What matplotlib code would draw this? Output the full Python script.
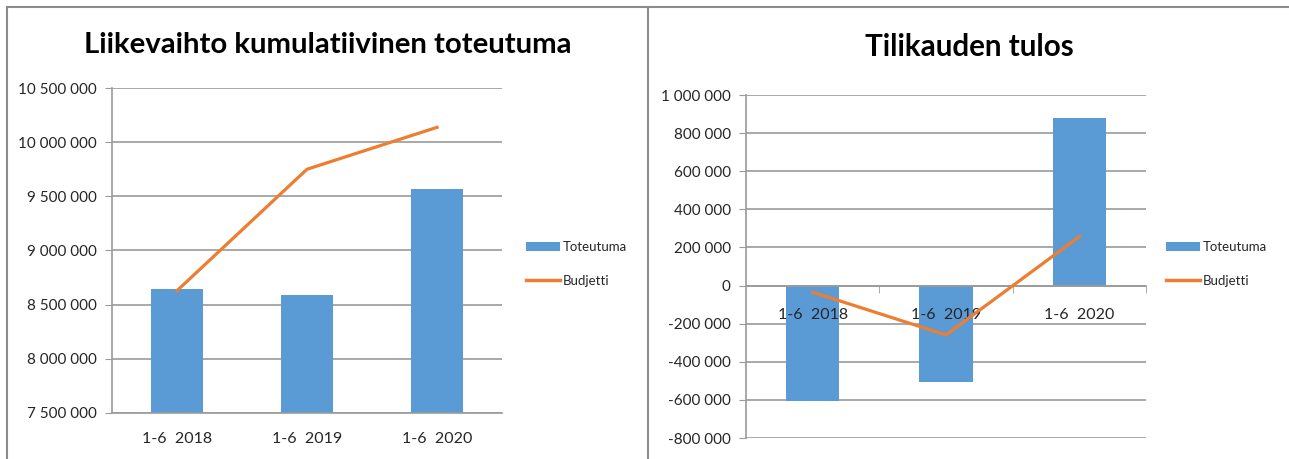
import matplotlib
matplotlib.use("Agg")
import matplotlib.pyplot as plt
from matplotlib.ticker import FuncFormatter, FixedLocator
from matplotlib.lines import Line2D
from matplotlib.patches import Patch

plt.rcParams["font.family"] = ["Lato", "DejaVu Sans"]

categories = ["1-6  2018", "1-6  2019", "1-6  2020"]

# Liikevaihto (revenue), cumulative Jan-Jun
revenue_actual = [8642000, 8589000, 9571000]
revenue_budget = [8629000, 9750000, 10137000]

# Tilikauden tulos (result for the period)
result_actual = [-605000, -504000, 879000]
result_budget = [-35000, -259000, 257000]

BAR_COLOR = "#5B9BD5"
LINE_COLOR = "#ED7D31"
GRID_COLOR = "#9a9a9a"
TEXT_COLOR = "#262626"

W, H = 1289, 459
fig = plt.figure(figsize=(W / 100, H / 100), dpi=100)


def px_axes(x0, y0, x1, y1):
    # axes from pixel box (top-left origin)
    return fig.add_axes([x0 / W, 1 - y1 / H, (x1 - x0) / W, (y1 - y0) / H])


def fmt_space(v, pos):
    s = f"{abs(int(round(v))):,}".replace(",", " ")
    return ("-" if v < 0 else "") + s


def style_axes(ax, ymin, ymax, step):
    ax.set_xlim(-0.5, len(categories) - 0.5)
    ax.set_ylim(ymin, ymax)
    ticks = list(range(ymin, ymax + 1, step))
    ax.yaxis.set_major_locator(FixedLocator(ticks))
    ax.yaxis.set_major_formatter(FuncFormatter(fmt_space))
    # gridlines behind the bars, tick labels stay on top
    for t in ticks:
        ax.axhline(t, color=GRID_COLOR, lw=1.2, zorder=0)
    for s in ("top", "right"):
        ax.spines[s].set_visible(False)
    ax.spines["left"].set_color(GRID_COLOR)
    ax.spines["left"].set_linewidth(1.2)
    ax.spines["bottom"].set_color(GRID_COLOR)
    ax.spines["bottom"].set_linewidth(1.2)
    ax.tick_params(axis="y", length=5, color=GRID_COLOR, labelsize=11,
                   labelcolor=TEXT_COLOR, pad=6)
    ax.set_xticks(range(len(categories)))
    ax.set_xticklabels(categories)
    ax.tick_params(axis="x", length=0, labelsize=11.5, labelcolor=TEXT_COLOR)


def add_legend(ax, x_px, y_px):
    handles = [Patch(facecolor=BAR_COLOR, edgecolor="none"),
               Line2D([], [], color=LINE_COLOR, lw=2.5)]
    ax.legend(handles, ["Toteutuma", "Budjetti"], loc="center left",
              bbox_to_anchor=(x_px / W, 1 - y_px / H),
              bbox_transform=fig.transFigure, frameon=False,
              fontsize=9.5, handlelength=2.6, handleheight=0.65,
              handletextpad=0.2, labelspacing=1.6, borderpad=0,
              borderaxespad=0, labelcolor=TEXT_COLOR)


x = range(len(categories))

# left: revenue
ax1 = px_axes(112, 88, 502, 413)
ax1.bar(x, revenue_actual, width=0.4, color=BAR_COLOR, zorder=1)
ax1.plot(x, revenue_budget, color=LINE_COLOR, lw=2.3, zorder=3)
style_axes(ax1, 7500000, 10500000, 500000)
ax1.tick_params(axis="x", pad=14)
add_legend(ax1, 526, 264)
fig.text(328 / W, 1 - 45 / H, "Liikevaihto kumulatiivinen toteutuma",
         ha="center", va="center", fontsize=21.2, fontweight="bold",
         color="black")

# right: result
ax2 = px_axes(746, 95, 1146, 438)
ax2.bar(x, result_actual, width=0.4, color=BAR_COLOR, zorder=1)
ax2.plot(x, result_budget, color=LINE_COLOR, lw=2.3, zorder=3)
style_axes(ax2, -800000, 1000000, 200000)
ax2.spines["bottom"].set_position(("data", 0))
ax2.set_xticks([0.5, 1.5, 2.5], minor=True)
ax2.tick_params(axis="x", which="minor", length=5, color=GRID_COLOR,
                direction="out")
ax2.tick_params(axis="x", which="major", pad=16)
add_legend(ax2, 1166, 264)
fig.text(969 / W, 1 - 47 / H, "Tilikauden tulos",
         ha="center", va="center", fontsize=21.3, fontweight="bold",
         color="black")

# panel frames
frame_kw = dict(color="#8c8c8c", lw=1.5, transform=fig.transFigure)
fig.add_artist(Line2D([7 / W, 1], [1 - 7 / H, 1 - 7 / H], **frame_kw))
fig.add_artist(Line2D([7 / W, 7 / W], [0, 1 - 7 / H], **frame_kw))
fig.add_artist(Line2D([648 / W, 648 / W], [0, 1 - 7 / H], **frame_kw))

fig.savefig("out.png", dpi=100, facecolor="white")
